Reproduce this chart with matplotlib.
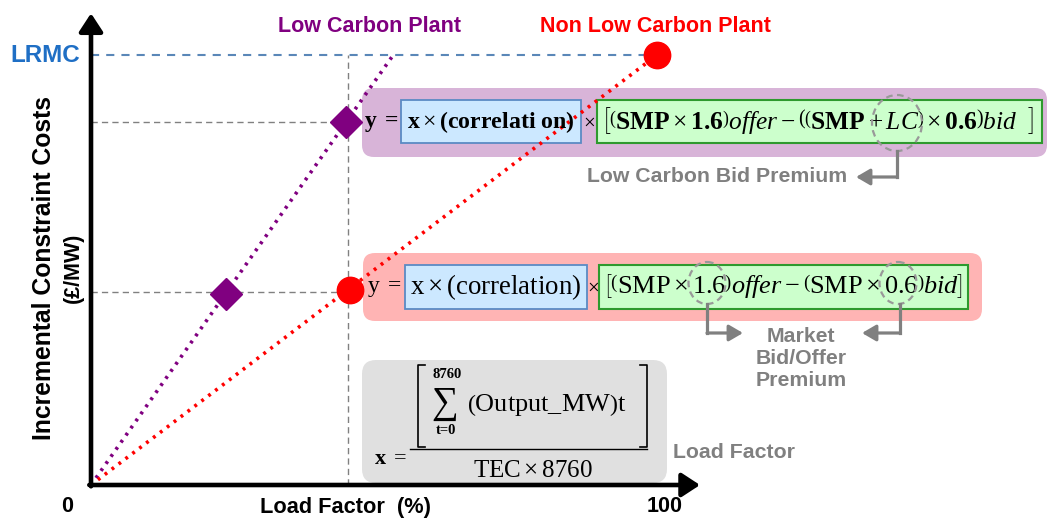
import matplotlib
matplotlib.use("Agg")
import matplotlib.pyplot as plt
from matplotlib.transforms import Affine2D
from matplotlib.patches import FancyBboxPatch, Ellipse
from matplotlib.lines import Line2D

# ---------------- data ----------------
lrmc = 100.0
lc_line_lf = [0, 53.4]          # Low carbon plant line (load factor %)
lc_line_cost = [0, 100]
lc_points_lf = [23.8, 45.0]
lc_points_cost = [44.5, 84.4]
nlc_line_lf = [0, 100]          # Non low carbon plant line
nlc_line_cost = [0, 100]
nlc_points_lf = [45.8, 100]
nlc_points_cost = [45.4, 100]
ref_lf = 45.4
guide_costs = [84.4, 45.0]
x_ticks = [0, 100]
x_tick_labels = ["0", "100"]

PURPLE = "#800080"
RED = "#ff0000"
GRAY = "#808080"

plt.rcParams["mathtext.fontset"] = "custom"
plt.rcParams["mathtext.rm"] = "Liberation Serif"
plt.rcParams["mathtext.it"] = "Liberation Serif:italic"
plt.rcParams["mathtext.bf"] = "Liberation Serif:bold"

W, H = 1047, 521
fig = plt.figure(figsize=(W / 100, H / 100), dpi=100)
ax = fig.add_axes([0, 0, 1, 1])
ox, oy = 91, 485
sx, sy = 5.66, 4.30
ax.set_xlim(-ox / sx, (W - ox) / sx)
ax.set_ylim(-(H - oy) / sy, oy / sy)
ax.axis("off")

# pixel (from top-left) transform for layout elements
P = Affine2D().scale(1 / W, -1 / H).translate(0, 1) + fig.transFigure
renderer = fig.canvas.get_renderer()


def ptext(x, y, s, ha="center", va="center", **kw):
    return ax.text(x, y, s, transform=P, ha=ha, va=va, **kw)


def fit_text(x, y, s, width, size=16, ha="center", **kw):
    t = ptext(x, y, s, ha=ha, fontsize=size, **kw)
    w = t.get_window_extent(renderer).width
    t.set_fontsize(size * width / w)
    return t


def rbox(x0, y0, x1, y1, fc, ec="none", lw=0, r=10, z=1):
    b = FancyBboxPatch((x0, y0), x1 - x0, y1 - y0,
                       boxstyle=f"round,pad=0,rounding_size={r}",
                       transform=P, fc=fc, ec=ec, lw=lw, zorder=z)
    ax.add_patch(b)


SANS = "Liberation Sans"

# ---------------- background boxes ----------------
rbox(362, 88, 1047, 157, "#d8b4d8", r=12, z=1)
rbox(363, 253, 982, 321, "#ffb4b4", r=12, z=1)
rbox(362, 360, 667, 483, "#e0e0e0", r=14, z=1)
# inner boxes
rbox(401, 100, 581, 143, "#cce8ff", ec="#5b8ac4", lw=1.3, r=0, z=2)
rbox(597, 100, 1042, 143, "#ccffcc", ec="#2e9a2e", lw=1.5, r=0, z=2)
rbox(405, 265, 587, 309, "#cce8ff", ec="#5b8ac4", lw=1.3, r=0, z=2)
rbox(599, 265, 968, 309, "#ccffcc", ec="#2e9a2e", lw=1.5, r=0, z=2)

# ---------------- guide lines ----------------
ax.plot([0, nlc_points_lf[1]], [lrmc, lrmc], color="#5a87b8", lw=1.5,
        dashes=(3.9, 3.4), zorder=3)
ax.plot([0, ref_lf], [guide_costs[0]] * 2, color=GRAY, lw=1, dashes=(4.5, 3), zorder=0.5)
ax.plot([0, ref_lf], [guide_costs[1]] * 2, color=GRAY, lw=1, dashes=(4.5, 3), zorder=0.5)
ax.plot([ref_lf, ref_lf], [0, lrmc], color=GRAY, lw=1, dashes=(4.5, 3), zorder=0.5)

# ---------------- series ----------------
ax.plot(lc_line_lf, lc_line_cost, color=PURPLE, lw=2.6, ls=(0, (0.8, 1.6)), zorder=4)
ax.plot(nlc_line_lf, nlc_line_cost, color=RED, lw=2.6, ls=(0, (0.8, 1.6)), zorder=4)
ax.plot(lc_points_lf, lc_points_cost, ls="none", marker="D", ms=16,
        color=PURPLE, zorder=5)
ax.plot(nlc_points_lf, nlc_points_cost, ls="none", marker="o", ms=19,
        color=RED, zorder=5)

# ---------------- axes arrows ----------------
arrow_kw = dict(arrowstyle="-|>,head_length=0.55,head_width=0.36", lw=3.3,
                color="black", mutation_scale=20, shrinkA=0, shrinkB=0)
ax.annotate("", xy=(107.6, 0), xytext=(-0.3, 0), arrowprops=arrow_kw, zorder=6)
ax.annotate("", xy=(0, 109.7), xytext=(0, -0.3), arrowprops=arrow_kw, zorder=6)

for xt, lab in zip(x_ticks, x_tick_labels):
    ax.text(xt - (4.3 if xt == 0 else -1.3), -5.0, lab, ha="center", va="center",
            fontsize=15.5, fontweight="bold", family=SANS)
ptext(346, 507, "Load Factor  (%)", fontsize=15.7, fontweight="bold", family=SANS)
ptext(44, 268, "Incremental Constraint Costs", rotation=90, fontsize=17.8,
      fontweight="bold", family=SANS)
ptext(73, 268, "(£/MW)", rotation=90, fontsize=15.5, fontweight="bold", family=SANS)
ax.text(-2.0, lrmc, "LRMC", ha="right", va="center", fontsize=17.5, fontweight="bold",
        family=SANS, color="#1f6fc5")

ptext(369, 27, "Low Carbon Plant", fontsize=15.5, fontweight="bold",
      family=SANS, color=PURPLE)
ptext(655, 27, "Non Low Carbon Plant", fontsize=15.5, fontweight="bold",
      family=SANS, color=RED)

# ---------------- formula: low carbon ----------------
ptext(382, 122, r"$\mathbf{y\ =}$", fontsize=17, zorder=7)
fit_text(491, 122, r"$\mathbf{x}\times\mathbf{(correlati\ on)}$", 168, zorder=7)
ptext(589, 122, r"$\times$", fontsize=15, zorder=7)
fit_text(818, 121,
         r"$\left[\left(\mathbf{SMP}\times\mathbf{1.6}\right)\mathit{offer}-"
         r"\left(\left(\mathbf{SMP}+\mathit{LC}\right)\times\mathbf{0.6}\right)\mathit{bid}\ \ \right]$",
         434, zorder=7)
ax.add_patch(Ellipse((897, 123), 50, 56, transform=P, fill=False, ec="#999999",
                     lw=1.6, ls=(0, (3, 2)), zorder=8))

# ---------------- formula: non low carbon ----------------
ptext(385, 287, r"$\mathrm{y\ =}$", fontsize=17, zorder=7)
fit_text(496, 287, r"$\mathrm{x}\times\mathrm{(correlation)}$", 172, zorder=7)
ptext(593, 287, r"$\times$", fontsize=15, zorder=7)
fit_text(783, 286,
         r"$\left[\left(\mathrm{SMP}\times1.6\right)\mathit{offer}-"
         r"\left(\mathrm{SMP}\times0.6\right)\mathit{bid}\right]$",
         362, zorder=7)
for cx in (707, 898):
    ax.add_patch(Ellipse((cx, 283), 37, 42, transform=P, fill=False, ec="#999999",
                         lw=1.6, ls=(0, (3, 2)), zorder=8))

# ---------------- formula: load factor ----------------
ptext(391, 458, r"$\mathbf{x}\ =$", fontsize=16, zorder=7)
ax.add_line(Line2D([410, 647], [449, 449], transform=P, color="black", lw=1, zorder=7))
for xs in ([425, 418, 418, 425], [640, 647, 647, 640]):
    ax.add_line(Line2D(xs, [365, 365, 447, 447], transform=P, color="black", lw=1.2, zorder=7))
ptext(447, 375, "8760", fontsize=10.5, fontweight="bold", family="Liberation Serif", zorder=7)
ptext(445, 404, "\u2211", fontsize=27, family=["Liberation Serif", "DejaVu Serif"], zorder=7)
ptext(446, 431, "t=0", fontsize=10.5, fontweight="bold", family="Liberation Serif", zorder=7)
fit_text(547, 405, r"$\left(\mathrm{Output\_MW}\right)\mathrm{t}$", 160, zorder=7)
fit_text(533, 470, r"$\mathrm{TEC}\times8760$", 120, zorder=7)

# ---------------- annotations ----------------
def bent_arrow(xs, ys):
    ax.add_line(Line2D(xs[:-1], ys[:-1], transform=P, color=GRAY, lw=2.3,
                       solid_joinstyle="miter", zorder=8))
    ax.annotate("", xy=(xs[-1], ys[-1]), xytext=(xs[-2], ys[-2]),
                xycoords=P, textcoords=P,
                arrowprops=dict(arrowstyle="-|>,head_length=0.6,head_width=0.35",
                                lw=2.3, color=GRAY, mutation_scale=14,
                                shrinkA=0, shrinkB=0), zorder=8)


bent_arrow([897, 897, 856], [151, 177, 177])
bent_arrow([707, 707, 743], [304, 333, 333])
bent_arrow([900, 900, 862], [304, 333, 333])

ptext(847, 177, "Low Carbon Bid Premium", ha="right", fontsize=15.3, fontweight="bold",
      family=SANS, color=GRAY)
ptext(801, 358, "Market\nBid/Offer\nPremium", fontsize=15.3, fontweight="bold",
      family=SANS, color=GRAY, linespacing=1.2)
ptext(673, 453, "Load Factor", ha="left", fontsize=15.3, fontweight="bold",
      family=SANS, color=GRAY)

fig.savefig("out.png", dpi=100)
